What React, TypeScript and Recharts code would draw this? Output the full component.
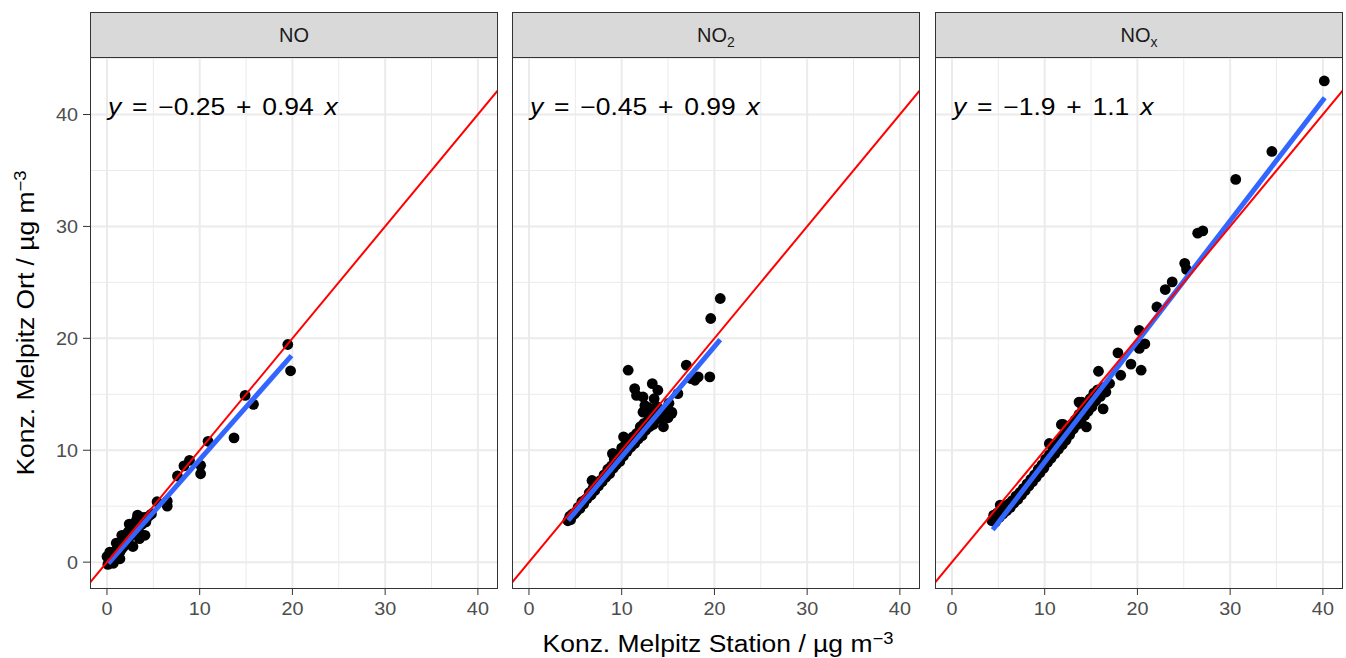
import { ScatterChart, Scatter, XAxis, YAxis, CartesianGrid } from 'recharts';

// facet data: [Station, Ort]
const noPoints: [number, number][] = [
  [0.1, -0.2], [0.2, 0.2], [0.3, -0.1], [0.3, 0.5], [0.4, 0.1], [0.0, 0.5], [0.3, 0.9],
  [0.5, 0.8], [0.6, 0.3], [0.7, -0.1], [0.8, 0.6], [0.9, 1.0], [1.0, 0.4], [1.0, 1.7],
  [1.1, 1.1], [1.2, 0.8], [1.3, 1.4], [1.4, 0.9], [1.5, 1.6], [1.6, 1.2], [1.6, 2.4],
  [1.7, 1.9], [1.8, 1.4], [1.9, 2.2], [2.0, 1.7], [2.1, 2.5], [2.2, 1.9], [2.3, 2.7],
  [2.4, 2.2], [2.4, 3.4], [2.5, 3.0], [2.6, 2.4], [2.7, 3.2], [2.8, 2.7], [2.8, 1.4],
  [3.0, 3.5], [3.1, 2.8], [3.2, 3.8], [3.3, 4.2], [3.4, 3.1], [3.5, 2.1], [3.6, 2.5],
  [3.6, 4.0], [3.8, 3.4], [4.0, 4.0], [4.1, 2.4], [4.2, 3.6], [4.5, 4.1], [4.8, 4.3],
  [0.5, 0.3], [1.4, 1.5], [2.9, 3.3], [1.4, 0.3],
  [5.4, 5.4], [6.5, 5.0], [6.5, 5.45], [7.6, 7.7], [8.3, 8.6], [8.9, 9.1], [10.1, 8.65],
  [10.1, 7.9], [10.9, 10.8], [13.7, 11.1], [14.9, 14.9], [15.8, 14.1], [19.5, 19.45],
  [19.8, 17.1],
];

const no2Points: [number, number][] = [
  [4.2, 3.7], [4.4, 4.1], [4.5, 3.8], [4.7, 4.3], [4.9, 4.3], [5.1, 4.5], [5.3, 4.9],
  [5.5, 4.8], [5.7, 5.4], [5.9, 5.2], [6.1, 5.6], [6.3, 5.7], [6.5, 6.2], [6.7, 6.0],
  [6.9, 6.6], [7.1, 6.4], [7.3, 7.0], [7.5, 6.8], [7.7, 7.3], [7.9, 7.2], [8.1, 7.8],
  [8.3, 7.6], [8.5, 8.3], [8.7, 7.9], [8.9, 8.6], [9.1, 8.4], [9.2, 9.2], [9.4, 8.7],
  [9.6, 9.5], [9.8, 9.0], [10.0, 10.2], [10.2, 9.5], [10.4, 10.5], [10.6, 9.9],
  [10.8, 10.8], [11.0, 10.3], [11.2, 11.2], [11.4, 10.6], [11.6, 11.5], [11.8, 11.0],
  [12.0, 12.1], [12.2, 11.3], [12.4, 12.4], [12.6, 11.8], [12.8, 12.6], [13.0, 12.1],
  [13.2, 13.0], [13.4, 12.3], [13.6, 13.2], [13.8, 12.8], [14.0, 13.6], [14.2, 12.9],
  [14.5, 13.5], [14.8, 13.2], [15.1, 14.2], [15.4, 13.4], [15.0, 12.9], [9.0, 9.7],
  [10.2, 11.2], [6.8, 7.3], [12.9, 13.8], [13.5, 14.6],
  [20.63, 23.56], [19.6, 21.77], [10.7, 17.15], [11.4, 15.5], [11.6, 14.9], [12.3, 14.76],
  [12.5, 14.0], [12.3, 13.4], [13.3, 15.95], [13.9, 15.36], [16.97, 17.6], [17.9, 16.25],
  [18.25, 16.55], [19.5, 16.55], [17.5, 16.4], [16.06, 15.06], [15.4, 13.3], [14.5, 12.1],
  [13.8, 13.9], [9.1, 9.7],
];

const noxPoints: [number, number][] = [
  [4.3, 3.7], [4.5, 4.2], [4.7, 3.6], [4.9, 4.4], [5.1, 4.0], [5.2, 5.1], [5.3, 4.6],
  [5.5, 4.3], [5.7, 5.0], [5.9, 4.6], [6.1, 5.2], [6.3, 4.9], [6.5, 5.5], [6.7, 5.3],
  [6.9, 5.9], [7.1, 5.6], [7.3, 6.2], [7.5, 6.0], [7.7, 6.6], [7.9, 6.4], [8.1, 7.0],
  [8.3, 6.8], [8.5, 7.4], [8.7, 7.2], [8.9, 7.8], [9.1, 7.6], [9.3, 8.3], [9.5, 8.0],
  [9.7, 8.7], [9.9, 8.4], [10.1, 9.2], [10.3, 8.9], [10.5, 9.6], [10.7, 9.3], [10.9, 10.1],
  [11.1, 9.7], [11.3, 10.5], [11.5, 10.1], [11.7, 11.0], [11.9, 10.5], [12.1, 11.4],
  [12.3, 10.9], [12.5, 11.8], [12.7, 11.4], [12.9, 12.3], [13.1, 11.9], [13.3, 12.7],
  [13.5, 12.3], [13.7, 13.2], [13.9, 12.6], [14.1, 13.8], [14.3, 13.1], [14.5, 14.2],
  [14.7, 13.5], [14.9, 14.6], [15.1, 13.9], [15.3, 15.1], [15.5, 14.4], [15.7, 15.4],
  [16.0, 14.8], [16.3, 15.6], [16.6, 15.2], [10.5, 10.6], [12.0, 12.3], [14.0, 14.3],
  [40.15, 43.0], [34.5, 36.7], [30.6, 34.2], [27.05, 29.6], [26.5, 29.4], [25.1, 26.7],
  [25.3, 26.15], [23.75, 25.04], [23.0, 24.36], [22.1, 22.8], [20.2, 20.7], [20.8, 19.5],
  [20.2, 19.1], [17.9, 18.7], [19.3, 17.7], [20.4, 17.15], [18.2, 16.7], [15.8, 17.06],
  [17.0, 15.96], [13.7, 14.3], [16.3, 13.7], [11.8, 12.3], [14.5, 12.08],
];

// geom_smooth(method = lm) end points
const noFit: [number, number][] = [[0.15, -0.11], [19.9, 18.46]];
const no2Fit: [number, number][] = [[4.23, 3.74], [20.63, 19.88]];
const noxFit: [number, number][] = [[4.4, 2.9], [40.2, 41.5]];

const panelNames = ['NO', 'NO2', 'NOx'];
const equations = [
  ['−0.25', '0.94'],
  ['−0.45', '0.99'],
  ['−1.9', '1.1'],
];

const X_DOMAIN: [number, number] = [-1.83, 42.17];
const Y_DOMAIN: [number, number] = [-2.4, 45.14];
const MAJOR = [0, 10, 20, 30, 40];
const MINOR_X = [5, 15, 25, 35];
const MINOR_Y = [5, 15, 25, 35, 45];

const PANEL_LEFT = [90, 512, 935];
const PANEL_W = 408;
const PANEL_TOP = 57;
const PANEL_H = 532;
const FONT = '"Liberation Sans", Arial, sans-serif';

const toPts = (arr: [number, number][]) => arr.map(([x, y]) => ({ x, y }));
const identity = toPts([[X_DOMAIN[0], X_DOMAIN[0]], [X_DOMAIN[1], X_DOMAIN[1]]]);

const Dot = (p: any) => <circle cx={p.cx} cy={p.cy} r={5.4} fill="#000" />;
const NoShape = () => <g />;

// ggplot's text comes out a little wider than Liberation Sans
const XTick = ({ x, y, payload }: any) => (
  <text
    transform={`translate(${x},${y}) scale(1.1,1)`}
    textAnchor="middle"
    dy="0.71em"
    fill="#4D4D4D"
    fontSize={18}
    fontFamily={FONT}
  >
    {payload.value}
  </text>
);
const YTick = ({ x, y, payload }: any) => (
  <text
    transform={`translate(${x},${y}) scale(1.1,1)`}
    textAnchor="end"
    dy="0.355em"
    fill="#4D4D4D"
    fontSize={18}
    fontFamily={FONT}
  >
    {payload.value}
  </text>
);

function Panel({ idx, points, fit }: { idx: number; points: [number, number][]; fit: [number, number][] }) {
  const showY = idx === 0;
  const left = PANEL_LEFT[idx];
  return (
    <div style={{ position: 'absolute', left: showY ? 0 : left, top: PANEL_TOP }}>
      <ScatterChart
        width={showY ? left + PANEL_W : PANEL_W}
        height={PANEL_H + 40}
        margin={{ top: 0, right: 0, bottom: 0, left: 0 }}
      >
        <CartesianGrid verticalValues={MINOR_X} horizontalValues={MINOR_Y} stroke="#EBEBEB" strokeWidth={1} />
        <CartesianGrid verticalValues={MAJOR} horizontalValues={MAJOR} stroke="#EBEBEB" strokeWidth={2} />
        <XAxis
          type="number"
          dataKey="x"
          domain={X_DOMAIN}
          ticks={MAJOR}
          interval={0}
          allowDataOverflow
          height={40}
          axisLine={false}
          tickLine={{ stroke: '#333' }}
          tickSize={6}
          tickMargin={7}
          tick={XTick}
        />
        <YAxis
          type="number"
          dataKey="y"
          domain={Y_DOMAIN}
          ticks={MAJOR}
          interval={0}
          allowDataOverflow
          hide={!showY}
          width={90}
          axisLine={false}
          tickLine={{ stroke: '#333' }}
          tickSize={7}
          tickMargin={5}
          tick={YTick}
        />
        <Scatter data={toPts(points)} shape={Dot} isAnimationActive={false} />
        <Scatter
          data={toPts(fit)}
          line={{ stroke: '#3366FF', strokeWidth: 5 }}
          shape={NoShape}
          isAnimationActive={false}
        />
        <Scatter
          data={identity}
          line={{ stroke: '#FF0000', strokeWidth: 2 }}
          shape={NoShape}
          isAnimationActive={false}
        />
      </ScatterChart>
    </div>
  );
}

function StripLabel({ name }: { name: string }) {
  if (name === 'NO') return <>NO</>;
  return (
    <>
      NO<span style={{ fontSize: 14, position: 'relative', top: 5 }}>{name.slice(2)}</span>
    </>
  );
}

export default function App() {
  const data = [noPoints, no2Points, noxPoints];
  const fits = [noFit, no2Fit, noxFit];
  return (
    <div style={{ position: 'absolute', left: 0, top: 0, width: 1346, height: 658, background: '#fff', fontFamily: FONT, overflow: 'hidden' }}>
      {PANEL_LEFT.map((left, i) => (
        <div key={'s' + i}>
          <div
            style={{
              position: 'absolute', left, top: 12, width: PANEL_W, height: 46, boxSizing: 'border-box',
              background: '#D9D9D9', border: '1px solid #333', textAlign: 'center', lineHeight: '44px',
              fontSize: 20, color: '#1A1A1A',
            }}
          >
            <StripLabel name={panelNames[i]} />
          </div>
          <Panel idx={i} points={data[i]} fit={fits[i]} />
          <div
            style={{
              position: 'absolute', left, top: PANEL_TOP, width: PANEL_W, height: PANEL_H,
              boxSizing: 'border-box', border: '1px solid #333', pointerEvents: 'none',
            }}
          />
          <div
            style={{
              position: 'absolute', left: left + 18, top: 96, fontSize: 23, lineHeight: '23px',
              color: '#000', whiteSpace: 'pre', wordSpacing: 3,
              transform: 'scaleX(1.15)', transformOrigin: 'left center',
            }}
          >
            <i>y</i> = {equations[i][0]} + {equations[i][1]} <i>x</i>
          </div>
        </div>
      ))}
      <div
        style={{
          position: 'absolute', left: 21 - 250, top: 323 - 15, width: 500, height: 30, lineHeight: '30px',
          textAlign: 'center', fontSize: 23, color: '#000', transform: 'rotate(-90deg) scaleX(1.15)',
        }}
      >
        Konz. Melpitz Ort / µg m<sup style={{ fontSize: 16, verticalAlign: 8 }}>−3</sup>
      </div>
      <div
        style={{
          position: 'absolute', left: 218, top: 624, width: 1000, height: 30, lineHeight: '30px',
          textAlign: 'center', fontSize: 23, color: '#000', transform: 'scaleX(1.15)',
        }}
      >
        Konz. Melpitz Station / µg m<sup style={{ fontSize: 16, verticalAlign: 8 }}>−3</sup>
      </div>
    </div>
  );
}
